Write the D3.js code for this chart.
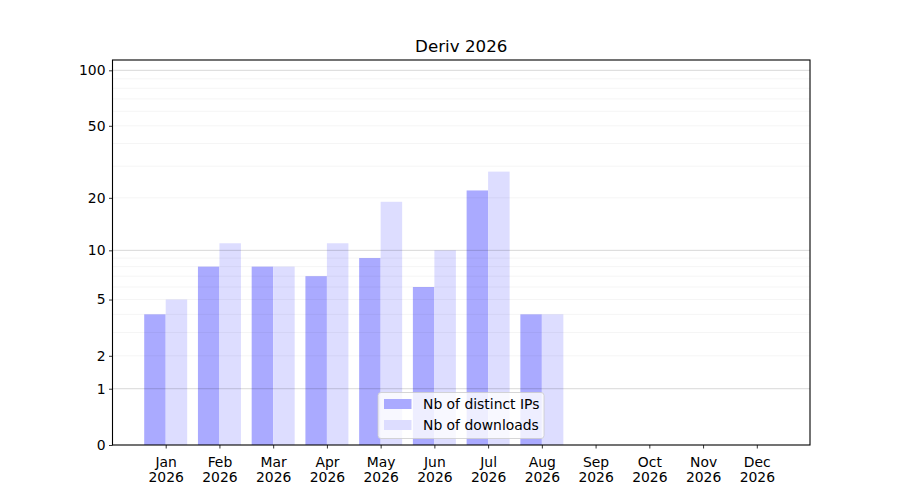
<!DOCTYPE html>
<html>
<head>
<meta charset="utf-8">
<script src="https://cdn.jsdelivr.net/npm/d3@7"></script>
<style>
  body { margin: 0; background: #fff; }
  text { font-family: "DejaVu Sans", sans-serif; }
</style>
</head>
<body>
<script>
let months = ["Jan", "Feb", "Mar", "Apr", "May", "Jun", "Jul", "Aug", "Sep", "Oct", "Nov", "Dec"];
let year = "2026";
let distinct_ips = [4, 8, 8, 7, 9, 6, 22, 4, 0, 0, 0, 0];
let downloads = [5, 11, 8, 11, 19, 10, 28, 4, 0, 0, 0, 0];
let y_ticks = [0, 1, 2, 5, 10, 20, 50, 100];
let y_major_grid = [1, 10, 100];
let y_minor_grid = [2, 3, 4, 5, 6, 7, 8, 9, 20, 30, 40, 50, 60, 70, 80, 90];

let width = 900;
let height = 500;
let ax_left = 112.5, ax_right = 810, ax_top = 60, ax_bottom = 445;
let bar_w = 0.4;

let xscale = d3.scaleLinear().domain([-0.99, 11.99]).range([ax_left, ax_right]);
let yscale = d3.scaleSymlog().constant(1).domain([0, 113.7]).range([ax_bottom, ax_top]);

let svg = d3.select("body").append("svg").attr("width", width).attr("height", height);

// bars
svg.selectAll("rect.ips").data(distinct_ips).enter().append("rect")
    .attr("class", "ips")
    .attr("x", (d, i) => xscale(i - bar_w))
    .attr("width", (d, i) => xscale(i) - xscale(i - bar_w))
    .attr("y", (d) => yscale(d))
    .attr("height", (d) => ax_bottom - yscale(d))
    .attr("fill", "#aaaaff");

svg.selectAll("rect.dl").data(downloads).enter().append("rect")
    .attr("class", "dl")
    .attr("x", (d, i) => xscale(i))
    .attr("width", (d, i) => xscale(i + bar_w) - xscale(i))
    .attr("y", (d) => yscale(d))
    .attr("height", (d) => ax_bottom - yscale(d))
    .attr("fill", "#ddddff");

// grid on top of bars
svg.selectAll("line.minor").data(y_minor_grid).enter().append("line")
    .attr("x1", ax_left).attr("x2", ax_right)
    .attr("y1", (d) => yscale(d)).attr("y2", (d) => yscale(d))
    .attr("stroke", "#000").attr("stroke-opacity", 0.06).attr("stroke-width", 0.8);

svg.selectAll("line.major").data(y_major_grid).enter().append("line")
    .attr("x1", ax_left).attr("x2", ax_right)
    .attr("y1", (d) => yscale(d)).attr("y2", (d) => yscale(d))
    .attr("stroke", "#000").attr("stroke-opacity", 0.2).attr("stroke-width", 0.8);

// axes
let yaxis = d3.axisLeft(yscale).tickValues(y_ticks).tickFormat(d3.format("d")).tickSize(3.5).tickPadding(3.5);
let gy = svg.append("g").attr("transform", `translate(${ax_left},0)`).call(yaxis);
gy.select(".domain").remove();
gy.selectAll("text").attr("font-size", "13.9px").attr("fill", "#000").attr("font-family", "DejaVu Sans");
gy.selectAll("line").attr("stroke", "#000").attr("stroke-width", 0.8);

let xaxis = d3.axisBottom(xscale).tickValues(d3.range(months.length)).tickFormat("").tickSize(3.5);
let gx = svg.append("g").attr("transform", `translate(0,${ax_bottom})`).call(xaxis);
gx.select(".domain").remove();
gx.selectAll("line").attr("stroke", "#000").attr("stroke-width", 0.8);
gx.selectAll(".tick").each(function(d) {
  let t = d3.select(this).append("text")
      .attr("fill", "#000").attr("font-size", "13.9px").attr("text-anchor", "middle")
      .attr("font-family", "DejaVu Sans");
  t.append("tspan").attr("x", 0).attr("y", 21.5).text(months[d]);
  t.append("tspan").attr("x", 0).attr("y", 37).text(year);
});

// frame
svg.append("rect").attr("x", ax_left).attr("y", ax_top)
    .attr("width", ax_right - ax_left).attr("height", ax_bottom - ax_top)
    .attr("fill", "none").attr("stroke", "#000").attr("stroke-width", 1.1);

// title
svg.append("text").attr("x", (ax_left + ax_right) / 2).attr("y", 52)
    .attr("text-anchor", "middle").attr("font-size", "16.7px").attr("fill", "#000")
    .text("Deriv 2026");

// legend
let legend_items = [["Nb of distinct IPs", "#aaaaff"], ["Nb of downloads", "#ddddff"]];
let lg = svg.append("g").attr("transform", "translate(378,392.5)");
lg.append("rect").attr("width", 166).attr("height", 46).attr("rx", 3)
    .attr("fill", "#fff").attr("fill-opacity", 0.8)
    .attr("stroke", "#ccc").attr("stroke-width", 0.8);
legend_items.forEach((it, i) => {
  lg.append("rect").attr("x", 6).attr("y", 6.5 + i * 21).attr("width", 27.5).attr("height", 10)
      .attr("fill", it[1]);
  lg.append("text").attr("x", 45).attr("y", 16.5 + i * 21)
      .attr("font-size", "13.9px").attr("fill", "#000").text(it[0]);
});
</script>
</body>
</html>
